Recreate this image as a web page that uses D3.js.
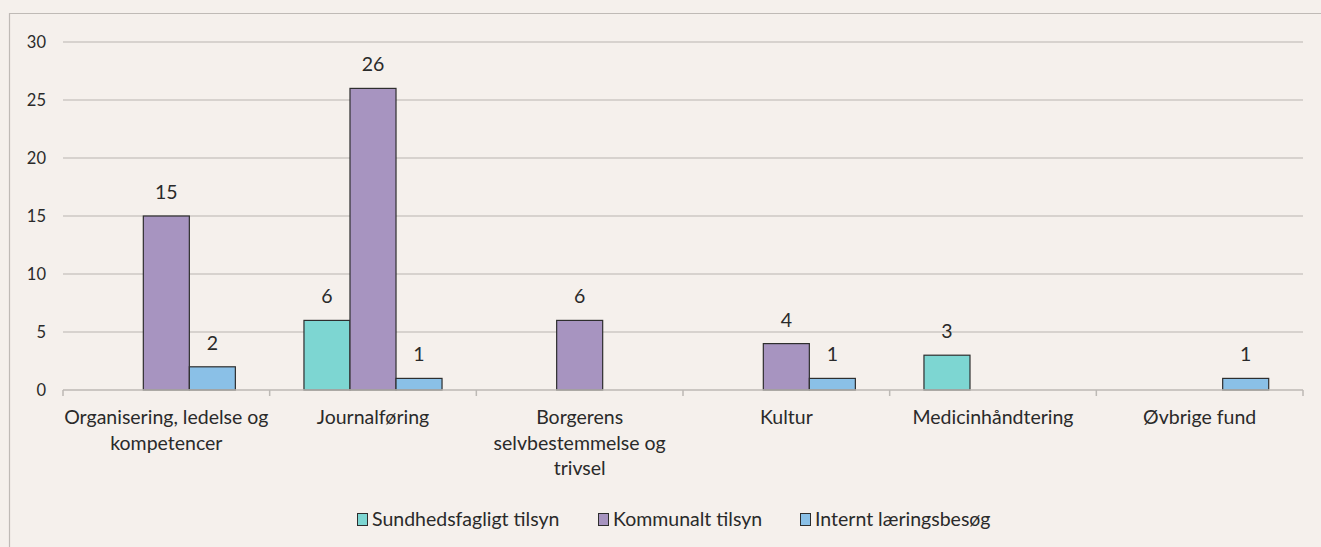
<!DOCTYPE html>
<html>
<head>
<meta charset="utf-8">
<script src="https://cdn.jsdelivr.net/npm/d3@7"></script>
<style>
  html, body { margin: 0; padding: 0; background: #F5F0EC; }
  svg { display: block; }
  text { font-family: Lato, "Open Sans", sans-serif; fill: #2A2A2A; }
</style>
</head>
<body>
<svg id="chart" width="1321" height="547"></svg>
<script>
// Categories (multi-line labels split on "\n")
const categories = [
  "Organisering, ledelse og\nkompetencer",
  "Journalføring",
  "Borgerens\nselvbestemmelse og\ntrivsel",
  "Kultur",
  "Medicinhåndtering",
  "Øvbrige fund"
];
const seriesNames = ["Sundhedsfagligt tilsyn", "Kommunalt tilsyn", "Internt læringsbesøg"];
const sundhedsfagligt = [0, 6, 0, 0, 3, 0];
const kommunalt = [15, 26, 6, 4, 0, 0];
const internt = [2, 1, 0, 1, 0, 1];
const seriesColors = ["#7DD6D2", "#A794C0", "#8AC0E7"];
const yTicks = [0, 5, 10, 15, 20, 25, 30];

const seriesValues = [sundhedsfagligt, kommunalt, internt];

const svg = d3.select("#chart");
const W = 1321, H = 547;
const plot = { left: 63, right: 1303, top: 42, bottom: 390 };

// outer frame
svg.append("path")
  .attr("d", `M9.5,${H + 2}V13.5H${W + 2}`)
  .attr("fill", "none")
  .attr("stroke", "#BFBAB6")
  .attr("stroke-width", 1.2);

const x = d3.scaleBand()
  .domain(d3.range(categories.length))
  .range([plot.left, plot.right])
  .paddingInner(0)
  .paddingOuter(0);

const y = d3.scaleLinear().domain([0, 30]).range([plot.bottom, plot.top]);

// gridlines
svg.append("g")
  .selectAll("line")
  .data(yTicks.filter(d => d > 0))
  .join("line")
  .attr("x1", plot.left).attr("x2", plot.right)
  .attr("y1", d => y(d)).attr("y2", d => y(d))
  .attr("stroke", "#CCC8C4")
  .attr("stroke-width", 1.5);

// y-axis labels
svg.append("g")
  .selectAll("text")
  .data(yTicks)
  .join("text")
  .attr("x", 46)
  .attr("y", d => y(d))
  .attr("dy", "0.35em")
  .attr("text-anchor", "end")
  .attr("font-size", 16.5)
  .text(d => d);

// bars
const groupPad = 34.3;
const inner = d3.scaleBand().domain(d3.range(3)).range([groupPad, x.bandwidth() - groupPad]).padding(0);

seriesValues.forEach((vals, si) => {
  const g = svg.append("g");
  vals.forEach((v, ci) => {
    if (v <= 0) return;
    const bx = x(ci) + inner(si);
    g.append("rect")
      .attr("x", bx)
      .attr("y", y(v))
      .attr("width", inner.bandwidth())
      .attr("height", y(0) - y(v))
      .attr("fill", seriesColors[si])
      .attr("stroke", "#2E2E2E")
      .attr("stroke-width", 1.2);
    g.append("text")
      .attr("x", bx + inner.bandwidth() / 2)
      .attr("y", y(v) - 17)
      .attr("text-anchor", "middle")
      .attr("font-size", 19.5)
      .text(v);
  });
});

// x-axis baseline and category boundary ticks
const axis = svg.append("g");
axis.append("line")
  .attr("x1", plot.left).attr("x2", plot.right)
  .attr("y1", plot.bottom).attr("y2", plot.bottom)
  .attr("stroke", "#BDB9B5").attr("stroke-width", 1.5);
axis.selectAll("line.tick")
  .data(d3.range(categories.length + 1))
  .join("line")
  .attr("class", "tick")
  .attr("x1", i => i < categories.length ? x(i) : plot.right)
  .attr("x2", i => i < categories.length ? x(i) : plot.right)
  .attr("y1", plot.bottom).attr("y2", plot.bottom + 6)
  .attr("stroke", "#BDB9B5").attr("stroke-width", 1.5);

// category labels
categories.forEach((c, i) => {
  const t = svg.append("text")
    .attr("x", x(i) + x.bandwidth() / 2)
    .attr("y", 424)
    .attr("text-anchor", "middle")
    .attr("font-size", 19.5);
  c.split("\n").forEach((line, li) => {
    t.append("tspan")
      .attr("x", x(i) + x.bandwidth() / 2)
      .attr("dy", li === 0 ? 0 : 25.5)
      .text(line);
  });
});

// legend
const legendX = [357, 598, 800];
const lg = svg.append("g");
seriesNames.forEach((name, i) => {
  lg.append("rect")
    .attr("x", legendX[i] + 0.5).attr("y", 513.5)
    .attr("width", 10).attr("height", 12)
    .attr("fill", seriesColors[i])
    .attr("stroke", "#2E2E2E").attr("stroke-width", 1);
  lg.append("text")
    .attr("x", legendX[i] + 15).attr("y", 526)
    .attr("font-size", 19.5)
    .text(name);
});
</script>
</body>
</html>
